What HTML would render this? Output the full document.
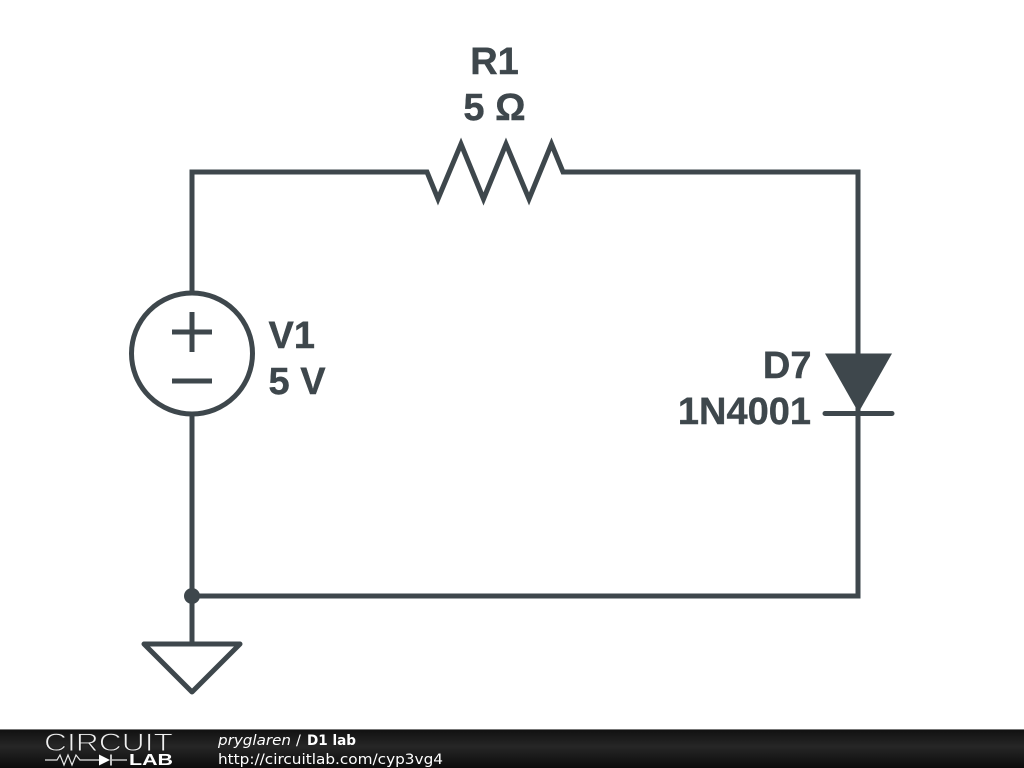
<!DOCTYPE html>
<html>
<head>
<meta charset="utf-8">
<title>D1 lab</title>
<style>
html,body{margin:0;padding:0;background:#fff;width:1024px;height:768px;overflow:hidden}
svg{display:block}
</style>
</head>
<body>
<svg width="1024" height="768" viewBox="0 0 1024 768" xmlns="http://www.w3.org/2000/svg">
<defs>
<linearGradient id="bar" x1="0" y1="0" x2="0" y2="1">
<stop offset="0" stop-color="#101010"/>
<stop offset="0.45" stop-color="#262626"/>
<stop offset="1" stop-color="#0c0c0c"/>
</linearGradient>
</defs>
<rect width="1024" height="768" fill="#fff"/>
<g fill="none" stroke="#3e474c" stroke-width="5">
<path d="M192 293V172H427L438 199L461 144L483.500 199L506 144L529 199L551.500 144L563 172H858V596H192" stroke-linejoin="miter" stroke-miterlimit="10"/>
<path d="M192 413V644"/>
<circle cx="192" cy="353.500" r="60.500"/>
<path d="M172 332H212M192 312V352M172 381H212"/>
<path d="M825 413.500H892" stroke-linecap="round"/>
<path d="M144 644H240L192 692Z" stroke-linejoin="round"/>
</g>
<path d="M825 353.500H892L858.500 412.500Z" fill="#3e474c"/>
<circle cx="192" cy="596" r="8" fill="#3e474c"/>
<g font-family="'Liberation Sans',sans-serif" font-weight="700" font-size="38" fill="#3e474c" stroke="#3e474c" stroke-width="0.400">
<text x="494.500" y="74" text-anchor="middle">R1</text>
<text x="494.500" y="120" text-anchor="middle">5 Ω</text>
<text x="268.500" y="348">V1</text>
<text x="268.500" y="394">5 V</text>
<text x="811.500" y="378" text-anchor="end">D7</text>
<text x="811" y="424" text-anchor="end">1N4001</text>
</g>
<rect y="729" width="1024" height="39" fill="url(#bar)"/>
<rect y="729" width="1024" height="1" fill="#777"/>
<text x="44" y="751" font-family="'Liberation Sans',sans-serif" font-size="25" fill="#f0f0f0" stroke="#1e1e1e" stroke-width="0.900" textLength="129" lengthAdjust="spacingAndGlyphs">CIRCUIT</text>
<text x="129" y="765" font-family="'Liberation Sans',sans-serif" font-size="15.500" font-weight="700" fill="#fff" textLength="44" lengthAdjust="spacingAndGlyphs">LAB</text>
<path d="M45 760H57L60 755L64 765L68 755L72 765L76 755L80 760H99M112 760H127" fill="none" stroke="#e8e8e8" stroke-width="1.200"/>
<path d="M99 754.500L110 760L99 765.500Z" fill="#fff"/>
<path d="M111 754.500V765.500" stroke="#fff" stroke-width="1.500"/>
<g font-family="'DejaVu Sans',sans-serif" font-size="14.400" fill="#fff">
<text x="218" y="745" font-style="italic" textLength="73" lengthAdjust="spacingAndGlyphs">pryglaren</text>
<text x="296" y="745">/</text>
<text x="307" y="745" font-weight="700" textLength="49" lengthAdjust="spacingAndGlyphs">D1 lab</text>
<text x="218" y="764" textLength="225" lengthAdjust="spacingAndGlyphs">http://circuitlab.com/cyp3vg4</text>
</g>
</svg>
</body>
</html>
